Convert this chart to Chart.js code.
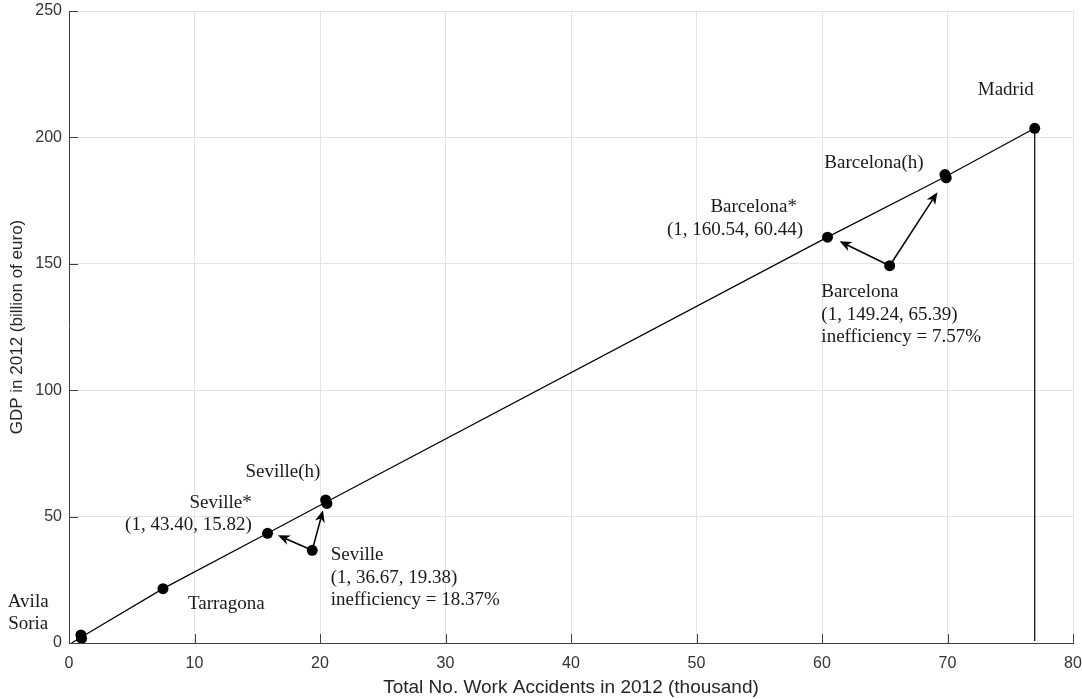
<!DOCTYPE html>
<html>
<head>
<meta charset="utf-8">
<title>GDP vs work accidents 2012</title>
<script src="https://cdn.jsdelivr.net/npm/chart.js@4.4.1/dist/chart.umd.min.js"></script>
<style>
  html, body { margin: 0; padding: 0; background: #fff; }
  #wrap { width: 1082px; height: 699px; position: relative; }
</style>
</head>
<body>
<div id="wrap"><canvas id="chart"></canvas></div>
<script>
// ─── DATA ───────────────────────────────────────────────────────
// x = work accidents (thousand), y = GDP (billion euro)
const frontierX = [0.2, 1.0, 7.49, 15.82, 20.5, 60.44, 69.86, 76.95, 76.95];
const frontierY = [0, 2.4, 21.5, 43.4, 55.8, 160.54, 184.5, 203.6, 0.8];

const cityNames = ["Avila", "Soria", "Tarragona", "Seville*", "Seville", "Seville(h)", "Seville(h)",
  "Barcelona*", "Barcelona", "Barcelona(h)", "Barcelona(h)", "Madrid"];
const cityX = [0.95, 1.0, 7.49, 15.82, 19.38, 20.45, 20.55, 60.44, 65.39, 69.8, 69.9, 76.95];
const cityY = [3.2, 1.8, 21.5, 43.4, 36.67, 56.6, 55.2, 160.54, 149.24, 185.3, 184.0, 203.6];

// arrows: from inefficient unit towards its projections
const arrowFromX = [19.38, 19.38, 65.39, 65.39];
const arrowFromY = [36.67, 36.67, 149.24, 149.24];
const arrowToX = [16.65, 20.24, 61.4, 69.2];
const arrowToY = [42.6, 52.5, 158.9, 178.3];

// text annotations (anchor in data units)
const noteText = ["Madrid", "Barcelona(h)", "Barcelona*", "(1, 160.54, 60.44)",
  "Barcelona", "(1, 149.24, 65.39)", "inefficiency = 7.57%",
  "Seville(h)", "Seville*", "(1, 43.40, 15.82)",
  "Seville", "(1, 36.67, 19.38)", "inefficiency = 18.37%",
  "Tarragona", "Avila", "Soria"];
const noteX = [74.64, 64.14, 58.0, 58.5, 59.95, 59.95, 59.95, 17.05, 14.56, 14.56,
  20.85, 20.85, 20.85, 9.48, -3.25, -3.25];
const noteY = [218.8, 189.8, 172.4, 163.5, 138.8, 129.6, 121.0, 67.6, 55.2, 46.5,
  34.7, 25.6, 16.9, 15.3, 16.2, 7.7];
const noteAlign = ["center", "center", "right", "right", "left", "left", "left",
  "center", "right", "right", "left", "left", "left", "left", "center", "center"];

const xTicks = [0, 10, 20, 30, 40, 50, 60, 70, 80];
const yTicks = [0, 50, 100, 150, 200, 250];

// ─── ANNOTATION PLUGIN ──────────────────────────────────────────
function drawArrow(ctx, x1, y1, x2, y2) {
  const ang = Math.atan2(y2 - y1, x2 - x1);
  const len = 12, half = 5, back = 3.5;
  ctx.beginPath();
  ctx.moveTo(x1, y1);
  ctx.lineTo(x2 - Math.cos(ang) * (len - back), y2 - Math.sin(ang) * (len - back));
  ctx.stroke();
  ctx.save();
  ctx.translate(x2, y2);
  ctx.rotate(ang);
  ctx.beginPath();
  ctx.moveTo(0, 0);
  ctx.lineTo(-len, -half);
  ctx.lineTo(-len + back, 0);
  ctx.lineTo(-len, half);
  ctx.closePath();
  ctx.fill();
  ctx.restore();
}

const annotPlugin = {
  id: "annot",
  afterDatasetsDraw(chart) {
    const { ctx, scales: { x, y } } = chart;
    ctx.save();
    ctx.strokeStyle = "#000";
    ctx.fillStyle = "#000";
    ctx.lineWidth = 1.5;
    for (let i = 0; i < arrowFromX.length; i++) {
      drawArrow(ctx,
        x.getPixelForValue(arrowFromX[i]), y.getPixelForValue(arrowFromY[i]),
        x.getPixelForValue(arrowToX[i]), y.getPixelForValue(arrowToY[i]));
    }
    ctx.restore();
  },
  afterDraw(chart) {
    const { ctx, chartArea, scales: { x, y } } = chart;
    ctx.save();
    // inward tick marks (matlab style)
    ctx.strokeStyle = "#404040";
    ctx.lineWidth = 1;
    ctx.beginPath();
    xTicks.forEach((t) => {
      const px = Math.round(x.getPixelForValue(t)) + 0.5;
      ctx.moveTo(px, chartArea.bottom);
      ctx.lineTo(px, chartArea.bottom - 9);
    });
    yTicks.forEach((t) => {
      const py = Math.round(y.getPixelForValue(t)) + 0.5;
      ctx.moveTo(chartArea.left, py);
      ctx.lineTo(chartArea.left + 9, py);
    });
    ctx.stroke();

    ctx.fillStyle = "#1a1a1a";
    ctx.font = "19px 'Liberation Serif', 'Times New Roman', serif";
    ctx.textBaseline = "middle";
    noteText.forEach((txt, i) => {
      ctx.textAlign = noteAlign[i];
      ctx.fillText(txt, x.getPixelForValue(noteX[i]), y.getPixelForValue(noteY[i]));
    });
    ctx.restore();
  },
};

// ─── CHART ──────────────────────────────────────────────────────
const sans = "'Liberation Sans', Arial, sans-serif";

new Chart(document.getElementById("chart"), {
  type: "scatter",
  data: {
    datasets: [
      {
        label: "frontier",
        data: frontierX.map((v, i) => ({ x: v, y: frontierY[i] })),
        showLine: true,
        borderColor: "#000",
        borderWidth: 1.2,
        pointRadius: 0,
        fill: false,
      },
      {
        label: "units",
        data: cityX.map((v, i) => ({ x: v, y: cityY[i], name: cityNames[i] })),
        backgroundColor: "#000",
        borderColor: "#000",
        pointRadius: 5.5,
        borderWidth: 0,
      },
    ],
  },
  options: {
    responsive: true,
    maintainAspectRatio: false,
    devicePixelRatio: 1,
    animation: false,
    layout: { padding: { top: 11, right: 9, left: 0, bottom: 0 } },
    plugins: { legend: { display: false }, tooltip: { enabled: false } },
    scales: {
      x: {
        type: "linear",
        min: 0,
        max: 80,
        afterFit: (s) => { s.height = 56; s.paddingLeft = 0; s.paddingRight = 0; },
        afterBuildTicks: (s) => { s.ticks = xTicks.map((v) => ({ value: v })); },
        ticks: { color: "#333", font: { family: sans, size: 16 }, padding: 11 },
        grid: { color: "#e3e3e3", drawTicks: false },
        border: { color: "#404040", width: 1 },
        title: {
          display: true,
          text: "Total No. Work Accidents in 2012 (thousand)",
          color: "#262626",
          font: { family: sans, size: 19 },
          padding: 0,
        },
      },
      y: {
        type: "linear",
        min: 0,
        max: 250,
        afterFit: (s) => { s.width = 69; s.paddingTop = 0; s.paddingBottom = 0; },
        afterBuildTicks: (s) => { s.ticks = yTicks.map((v) => ({ value: v })); },
        ticks: { color: "#333", font: { family: sans, size: 16 }, padding: 7 },
        grid: { color: "#e3e3e3", drawTicks: false },
        border: { color: "#404040", width: 1 },
        title: {
          display: true,
          text: "GDP in 2012 (billion of euro)",
          color: "#262626",
          font: { family: sans, size: 17 },
          padding: { top: 7, bottom: 0 },
        },
      },
    },
  },
  plugins: [annotPlugin],
});
</script>
</body>
</html>
